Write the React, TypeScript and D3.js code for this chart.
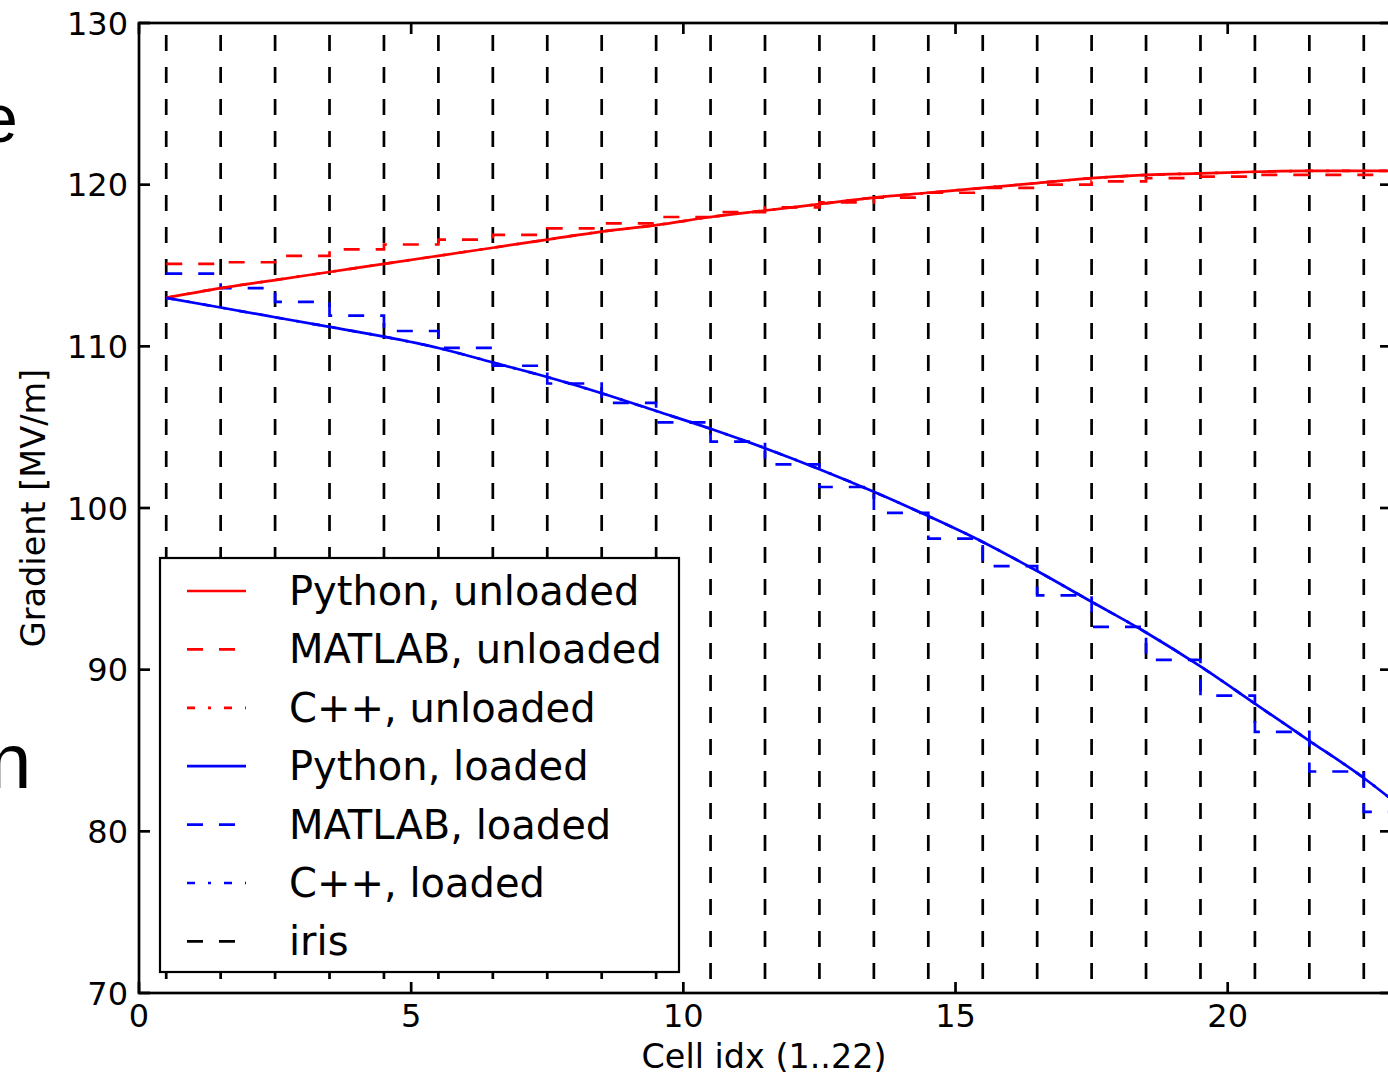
import React from "react";
import * as d3 from "d3";

const W = 1388;
const H = 1075;

// x positions of the Python / C++ curve samples
const curveX = [0.5, 1.5, 2.5, 3.5, 4.5, 5.5, 6.5, 7.5, 8.5, 9.5, 10.5, 11.5, 12.5, 13.5, 14.5, 15.5, 16.5, 17.5, 18.5, 19.5, 20.5, 21.5, 22.5, 23];
const pythonUnloaded = [113.0, 113.6, 114.1, 114.6, 115.1, 115.6, 116.1, 116.6, 117.1, 117.5, 118.0, 118.4, 118.8, 119.2, 119.5, 119.8, 120.1, 120.4, 120.6, 120.7, 120.8, 120.85, 120.85, 120.85];
const pythonLoaded = [113.0, 112.4, 111.8, 111.2, 110.6, 109.9, 109.0, 108.1, 107.1, 106.0, 104.9, 103.7, 102.4, 101.0, 99.5, 97.9, 96.1, 94.2, 92.3, 90.2, 87.9, 85.6, 83.3, 82.0];
const cppUnloaded = pythonUnloaded;
const cppLoaded = pythonLoaded;

// MATLAB values per cell (cells 1..23), drawn as steps from cell-0.5 to cell+0.5
const cells = [1, 2, 3, 4, 5, 6, 7, 8, 9, 10, 11, 12, 13, 14, 15, 16, 17, 18, 19, 20, 21, 22, 23];
const matlabUnloaded = [115.1, 115.2, 115.6, 116.0, 116.3, 116.6, 116.9, 117.3, 117.6, 118.0, 118.3, 118.6, 118.9, 119.2, 119.5, 119.8, 120.0, 120.2, 120.4, 120.5, 120.6, 120.6, 120.6];
const matlabLoaded = [114.5, 113.6, 112.75, 111.9, 110.95, 109.9, 108.8, 107.7, 106.5, 105.3, 104.1, 102.7, 101.3, 99.7, 98.1, 96.4, 94.6, 92.65, 90.6, 88.4, 86.15, 83.7, 81.2];

// iris positions
const irisX = [0.5, 1.5, 2.5, 3.5, 4.5, 5.5, 6.5, 7.5, 8.5, 9.5, 10.5, 11.5, 12.5, 13.5, 14.5, 15.5, 16.5, 17.5, 18.5, 19.5, 20.5, 21.5, 22.5];

const xTicks = [0, 5, 10, 15, 20];
const yTicks = [70, 80, 90, 100, 110, 120, 130];

const legendItems = [
  { label: "Python, unloaded", color: "#ff0000", dash: "none" },
  { label: "MATLAB, unloaded", color: "#ff0000", dash: "16,16" },
  { label: "C++, unloaded", color: "#ff0000", dash: "8,13,3,13" },
  { label: "Python, loaded", color: "#0000ff", dash: "none" },
  { label: "MATLAB, loaded", color: "#0000ff", dash: "16,16" },
  { label: "C++, loaded", color: "#0000ff", dash: "8,13,3,13" },
  { label: "iris", color: "#000000", dash: "16,16" },
];

const FONT = "'DejaVu Sans', sans-serif";

export default function App() {
  const left = 139, right = 1391, top = 23, bottom = 993;
  const x = d3.scaleLinear().domain([0, 23]).range([left, right]);
  const y = d3.scaleLinear().domain([70, 130]).range([bottom, top]);

  const curveLine = d3
    .line<[number, number]>()
    .x((d) => x(d[0]))
    .y((d) => y(d[1]))
    .curve(d3.curveMonotoneX);

  const stepLine = d3
    .line<[number, number]>()
    .x((d) => x(d[0]))
    .y((d) => y(d[1]))
    .curve(d3.curveStepAfter);

  const stepPts = (vals: number[]): [number, number][] => {
    const pts: [number, number][] = cells.map((c, i) => [c - 0.5, vals[i]]);
    pts.push([cells[cells.length - 1] + 0.5, vals[vals.length - 1]]);
    return pts;
  };
  const curvePts = (vals: number[]): [number, number][] => curveX.map((cx, i) => [cx, vals[i]]);

  const lw = 2.7;
  const tickLen = 11;

  const legX = 160, legY = 558, legW = 519, legH = 414;
  const rowH = 58.4;
  const firstRow = 591;

  return (
    <div style={{ position: "absolute", left: 0, top: 0, width: W, height: H, background: "#fff" }}>
      <svg width={W} height={H} viewBox={`0 0 ${W} ${H}`} style={{ display: "block", overflow: "hidden" }}>
        <defs>
          <clipPath id="plotclip">
            <rect x={left} y={top} width={right - left} height={bottom - top} />
          </clipPath>
        </defs>
        <rect x={0} y={0} width={W} height={H} fill="#fff" />

        {/* partial letters from neighbouring content */}
        <text x={-20} y={142} fontFamily="'Liberation Sans', Arial, sans-serif" fontSize={68} fill="#000">e</text>
        <text x={-12} y={788} fontFamily="'Liberation Sans', Arial, sans-serif" fontSize={78} fill="#000">n</text>

        <g clipPath="url(#plotclip)">
          {irisX.map((ix) => (
            <line key={ix} x1={x(ix)} x2={x(ix)} y1={top + 12} y2={bottom} stroke="#000" strokeWidth={lw} strokeDasharray="16,16" />
          ))}
          <path d={curveLine(curvePts(cppUnloaded)) || ""} fill="none" stroke="#ff0000" strokeWidth={lw} strokeDasharray="8,13,3,13" />
          <path d={curveLine(curvePts(cppLoaded)) || ""} fill="none" stroke="#0000ff" strokeWidth={lw} strokeDasharray="8,13,3,13" />
          <path d={stepLine(stepPts(matlabUnloaded)) || ""} fill="none" stroke="#ff0000" strokeWidth={lw} strokeDasharray="16,16" />
          <path d={stepLine(stepPts(matlabLoaded)) || ""} fill="none" stroke="#0000ff" strokeWidth={lw} strokeDasharray="16,16" />
          <path d={curveLine(curvePts(pythonUnloaded)) || ""} fill="none" stroke="#ff0000" strokeWidth={lw} />
          <path d={curveLine(curvePts(pythonLoaded)) || ""} fill="none" stroke="#0000ff" strokeWidth={lw} />
        </g>

        {/* ticks */}
        {yTicks.map((t) => (
          <g key={"y" + t}>
            <line x1={left} x2={left + tickLen} y1={y(t)} y2={y(t)} stroke="#000" strokeWidth={lw} />
            <line x1={right} x2={right - tickLen} y1={y(t)} y2={y(t)} stroke="#000" strokeWidth={lw} />
            <text x={left - 11} y={y(t) + 11.5} textAnchor="end" fontFamily={FONT} fontSize={32} fill="#000">{t}</text>
          </g>
        ))}
        {xTicks.map((t) => (
          <g key={"x" + t}>
            <line x1={x(t)} x2={x(t)} y1={bottom} y2={bottom - tickLen} stroke="#000" strokeWidth={lw} />
            <line x1={x(t)} x2={x(t)} y1={top} y2={top + tickLen} stroke="#000" strokeWidth={lw} />
            <text x={x(t)} y={1027} textAnchor="middle" fontFamily={FONT} fontSize={32} fill="#000">{t}</text>
          </g>
        ))}

        {/* spines */}
        <rect x={left} y={top} width={right - left} height={bottom - top} fill="none" stroke="#000" strokeWidth={lw} />

        {/* legend */}
        <rect x={legX} y={legY} width={legW} height={legH} fill="#fff" stroke="#000" strokeWidth={2.2} />
        {legendItems.map((it, i) => {
          const cy = firstRow + i * rowH;
          return (
            <g key={it.label}>
              <line x1={187} x2={246} y1={cy} y2={cy} stroke={it.color} strokeWidth={lw} strokeDasharray={it.dash === "none" ? undefined : it.dash} />
              <text x={289} y={cy + 14} fontFamily={FONT} fontSize={40} fill="#000">{it.label}</text>
            </g>
          );
        })}

        {/* axis labels */}
        <text x={764} y={1068} textAnchor="middle" fontFamily={FONT} fontSize={33.4} fill="#000">Cell idx (1..22)</text>
        <text transform={`translate(45, 508) rotate(-90)`} textAnchor="middle" fontFamily={FONT} fontSize={33.5} fill="#000">Gradient [MV/m]</text>
      </svg>
    </div>
  );
}
